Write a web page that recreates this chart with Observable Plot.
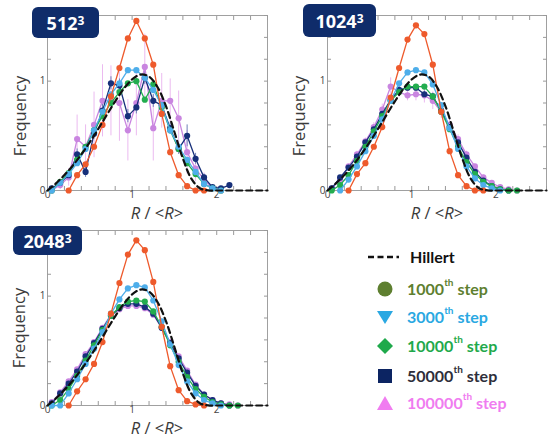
<!DOCTYPE html>
<html><head><meta charset="utf-8">
<script src="https://cdn.jsdelivr.net/npm/d3@7"></script>
<script src="https://cdn.jsdelivr.net/npm/@observablehq/plot@0.6"></script>
<style>
body{margin:0;background:#fff;}
#wrap{position:relative;width:555px;height:439px;overflow:hidden;background:#fff;font-family:"Open Sans",sans-serif;}
.panel{position:absolute;}
.badge{position:absolute;background:#0f2c6a;color:#fff;font-weight:700;font-size:18px;border-radius:6px;display:flex;align-items:center;justify-content:center;font-family:"Open Sans",sans-serif;}
.badge sup{font-size:12px;position:relative;top:-2px;}
.lab{position:absolute;transform:translate(-50%,-50%);white-space:nowrap;color:#3a3a3a;font-size:16.5px;line-height:16px;}
.ylab{transform:translate(-50%,-50%) rotate(-90deg);}
.leg{position:absolute;font-family:Lato,sans-serif;font-weight:700;font-size:16px;white-space:nowrap;display:flex;align-items:center;}
.leg sup{font-size:10px;position:relative;top:-3px;}
</style></head><body><div id="wrap"></div>
<script>
// ---------- data ----------
const panelNames = ["512", "1024", "2048"];
const seriesNames = ["1000th step", "3000th step", "10000th step", "50000th step", "100000th step"];
const binX = [0.05,0.15,0.25,0.35,0.45,0.55,0.65,0.75,0.85,0.95,1.05,1.15,1.25,1.35,1.45,1.55,1.65,1.75,1.85,1.95,2.05,2.15,2.25];

// 512^3
const s1000_512   = [null,null,0,0.14,0.24,0.40,0.60,0.86,1.12,1.39,1.55,1.39,1.15,0.70,0.35,0.14,0.04,0.0,0.0,null,null,null,null];
const s3000_512   = [0.0,0.07,0.15,0.25,0.38,0.55,0.72,0.88,0.98,1.10,1.10,1.03,0.92,0.78,0.55,0.40,0.28,0.17,0.06,0.02,0.0,null,null];
const s10000_512  = [0.0,0.08,0.16,0.28,0.40,0.55,0.68,0.80,0.90,0.98,1.00,0.83,0.97,0.76,0.55,0.38,0.25,0.15,0.06,0.02,0.0,null,null];
const s50000_512  = [0.02,0.07,0.14,0.33,0.17,0.52,0.73,0.98,0.96,0.68,0.76,1.03,0.82,0.78,0.57,0.38,0.50,0.29,0.12,0.03,0.02,0.05,null];
const s100000_512 = [0.0,0.05,0.12,0.47,0.40,0.60,0.82,0.82,0.80,0.55,0.80,1.13,0.57,0.82,0.82,0.66,0.35,0.20,0.10,0.02,0.0,null,null];
const e50000_512  = [0,0.02,0.04,0.05,0.05,0.05,0.06,0.06,0.06,0.06,0.06,0.06,0.06,0.06,0.05,0.05,0.10,0.05,0.03,0.02,0.01,0.01,null];
const e100000_512 = [0,0.04,0.08,0.22,0.20,0.30,0.33,0.32,0.35,0.28,0.30,0.30,0.30,0.25,0.20,0.25,0.20,0.12,0.06,0.03,0,null,null];

// 1024^3
const s1000_1024   = [null,null,0,0.15,0.25,0.40,0.58,0.85,1.12,1.38,1.51,1.43,1.15,0.72,0.36,0.14,0.04,0.0,0.0,null,null,null,null];
const s3000_1024   = [null,0.0,0.10,0.22,0.36,0.50,0.65,0.82,0.98,1.08,1.10,1.08,0.97,0.78,0.57,0.38,0.22,0.11,0.05,0.02,0.0,null,null];
const s10000_1024  = [0.0,0.05,0.14,0.27,0.40,0.54,0.68,0.82,0.90,0.95,0.95,0.95,0.86,0.72,0.56,0.40,0.26,0.15,0.08,0.04,0.01,0.0,0.0];
const s50000_1024  = [0.02,0.12,0.21,0.31,0.44,0.56,0.70,0.83,0.92,0.94,0.94,0.88,0.86,0.73,0.58,0.44,0.30,0.17,0.09,0.04,0.01,0.0,null];
const s100000_1024 = [0.02,0.10,0.22,0.33,0.45,0.58,0.74,0.95,0.90,0.87,0.88,0.87,0.82,0.72,0.60,0.47,0.33,0.22,0.12,0.07,0.03,0.01,0.0];
const e50000_1024  = [0,0.01,0.01,0.02,0.02,0.02,0.02,0.03,0.03,0.03,0.03,0.03,0.03,0.02,0.02,0.02,0.02,0.01,0.01,0.01,0,0,null];
const e100000_1024 = [0,0.01,0.02,0.03,0.03,0.04,0.05,0.08,0.05,0.05,0.06,0.07,0.08,0.06,0.05,0.04,0.03,0.02,0.02,0.01,0.01,0,0];

// 2048^3
const s1000_2048   = [null,null,0,0.13,0.24,0.38,0.58,0.84,1.12,1.38,1.51,1.42,1.13,0.72,0.36,0.14,0.04,0.01,0.0,null,null,null,null];
const s3000_2048   = [0.0,0.0,0.11,0.24,0.38,0.52,0.67,0.84,0.97,1.07,1.10,1.08,0.96,0.77,0.56,0.37,0.22,0.11,0.05,0.02,0.0,null,null];
const s10000_2048  = [0.0,0.05,0.15,0.27,0.41,0.55,0.69,0.82,0.90,0.95,0.96,0.95,0.86,0.72,0.55,0.40,0.26,0.15,0.08,0.03,0.01,0.0,0.0];
const s50000_2048  = [0.02,0.11,0.20,0.31,0.45,0.57,0.70,0.82,0.89,0.93,0.93,0.90,0.84,0.71,0.57,0.43,0.30,0.18,0.10,0.05,0.02,0.0,null];
const s100000_2048 = [0.03,0.12,0.22,0.33,0.47,0.58,0.71,0.83,0.88,0.91,0.91,0.89,0.83,0.71,0.58,0.45,0.32,0.19,0.10,0.05,0.02,0.01,0.0];

// Hillert curve
const hillX = [0,0.1,0.2,0.3,0.4,0.5,0.6,0.7,0.8,0.9,1.0,1.1,1.2,1.3,1.4,1.5,1.6,1.7,1.8,1.9,2.0,2.1,2.2,2.3,2.4,2.5,2.6];
const hillY = [0,0.065,0.141,0.229,0.330,0.442,0.563,0.690,0.815,0.928,1.016,1.060,1.042,0.946,0.771,0.535,0.292,0.108,0.021,0.001,0,0,0,0,0,0,0];

// ticks
const minorTicksX = [0,0.2,0.4,0.6,0.8,1,1.2,1.4,1.6,1.8,2,2.2,2.4,2.6];
const minorTicksY = [0,0.2,0.4,0.6,0.8,1,1.2,1.4,1.6];
const labelTicksX = [0,1,2];
const labelTicksY = [0,1];

// ---------- build ----------
const plotColors = ["#ee5a2c", "#4eaeea", "#23ad4f", "#17307a", "#c985e0"];
const errColors  = {3: "#7080b8", 4: "#ebbaf0"};
const legendColors = ["#5e7f30", "#2aa8e2", "#1fa94b", "#2e2e3a", "#f07cf0"];

const panelSeries = [
  [s1000_512, s3000_512, s10000_512, s50000_512, s100000_512],
  [s1000_1024, s3000_1024, s10000_1024, s50000_1024, s100000_1024],
  [s1000_2048, s3000_2048, s10000_2048, s50000_2048, s100000_2048]
];
const panelErrors = [
  {3: e50000_512, 4: e100000_512},
  {3: e50000_1024, 4: e100000_1024},
  {}
];
const hillRows = hillX.map((x, i) => ({x, y: hillY[i]}));

function rowsOf(arr, err) {
  return binX.map((x, i) => ({x, y: arr[i], e: err ? err[i] : null})).filter(d => d.y != null);
}

function makePanel(p, box) {
  const fmt = d3.format("d");
  const marks = [
    Plot.frame({stroke: "#a0a0a0"}),
    Plot.axisX(minorTicksX, {anchor: "bottom", tickSize: -4, tickFormat: () => "", label: null, stroke: "#999"}),
    Plot.axisX(minorTicksX, {anchor: "top", tickSize: -4, tickFormat: () => "", label: null, stroke: "#999"}),
    Plot.axisY(minorTicksY, {anchor: "left", tickSize: -4, tickFormat: () => "", label: null, stroke: "#999"}),
    Plot.axisY(minorTicksY, {anchor: "right", tickSize: -4, tickFormat: () => "", label: null, stroke: "#999"}),
    Plot.axisX(labelTicksX, {anchor: "bottom", tickSize: 0, tickPadding: 0, tickFormat: fmt, label: null, fill: "#444", fontSize: 10}),
    Plot.axisY(labelTicksY, {anchor: "left", tickSize: 0, tickPadding: 2, tickFormat: fmt, label: null, fill: "#444", fontSize: 10})
  ];
  // error bars
  [4, 3].forEach(k => {
    const err = panelErrors[p][k];
    if (!err) return;
    const rows = rowsOf(panelSeries[p][k], err).filter(d => d.e != null && d.e > 0);
    marks.push(Plot.ruleX(rows, {x: "x", y1: d => d.y - d.e, y2: d => d.y + d.e, stroke: errColors[k], strokeWidth: 1}));
  });
  // series: draw from last to first so orange ends up on top
  [4, 3, 2, 1, 0].forEach(k => {
    const rows = rowsOf(panelSeries[p][k]);
    marks.push(Plot.line(rows, {x: "x", y: "y", stroke: plotColors[k], strokeWidth: 1.3}));
    marks.push(Plot.dot(rows, {x: "x", y: "y", fill: plotColors[k], r: 3.1}));
  });
  marks.push(Plot.line(hillRows, {x: "x", y: "y", stroke: "#111", strokeWidth: 2.2, strokeDasharray: "6,4", curve: "catmull-rom"}));

  const svg = Plot.plot({
    width: box.w, height: box.h,
    marginLeft: 47, marginTop: 15, marginRight: box.mr, marginBottom: box.mb,
    x: {domain: [0, 2.6]},
    y: {domain: [0, 1.6]},
    style: {fontFamily: "Open Sans, sans-serif", fontSize: "10px", color: "#444", background: "transparent", overflow: "visible"},
    marks
  });
  svg.classList.add("panel");
  svg.style.left = box.left + "px";
  svg.style.top = box.top + "px";
  return svg;
}

const wrap = document.getElementById("wrap");
const boxes = [
  {left: 0, top: 0, w: 280, h: 220, mr: 13, mb: 30},
  {left: 280, top: 0, w: 275, h: 220, mr: 9, mb: 30},
  {left: 0, top: 215, w: 280, h: 224, mr: 13, mb: 34}
];
boxes.forEach((b, p) => wrap.appendChild(makePanel(p, b)));

// axis labels and badges
const badgeBoxes = [
  {l: 32, t: 7, w: 67, h: 31},
  {l: 303, t: 4, w: 73, h: 33},
  {l: 13, t: 226, w: 69, h: 29}
];
const yLabPos = [[20, 116], [299, 116], [19, 328]];
const xLabPos = [[157, 213], [437, 213], [157, 428]];
panelNames.forEach((name, p) => {
  const b = document.createElement("div");
  b.className = "badge";
  Object.assign(b.style, {left: badgeBoxes[p].l + "px", top: badgeBoxes[p].t + "px", width: badgeBoxes[p].w + "px", height: badgeBoxes[p].h + "px"});
  b.innerHTML = name + "<sup>3</sup>";
  wrap.appendChild(b);

  const yl = document.createElement("div");
  yl.className = "lab ylab";
  yl.style.left = yLabPos[p][0] + "px"; yl.style.top = yLabPos[p][1] + "px";
  yl.textContent = "Frequency";
  wrap.appendChild(yl);

  const xl = document.createElement("div");
  xl.className = "lab";
  xl.style.left = xLabPos[p][0] + "px"; xl.style.top = xLabPos[p][1] + "px";
  xl.innerHTML = "<i>R</i> / &lt;<i>R</i>&gt;";
  wrap.appendChild(xl);
});

// legend
const legShapes = [
  '<circle cx="8" cy="8" r="7.5"/>',
  '<path d="M0,2 L16,2 L8,15 Z"/>',
  '<path d="M8,0 L16,8 L8,16 L0,8 Z"/>',
  '<rect x="1" y="1" width="14" height="14"/>',
  '<path d="M8,1 L16,15 L0,15 Z"/>'
];
const legSymColors = ["#5e7f30", "#2aa8e2", "#1fa94b", "#0c2462", "#f07cf0"];
const legY = [290, 318, 347, 377, 404];

const h = document.createElement("div");
h.className = "leg";
h.style.left = "368px"; h.style.top = (258 - 11) + "px";
h.innerHTML = '<svg width="31" height="6" style="margin-right:11px"><line x1="0" y1="3" x2="31" y2="3" stroke="#111" stroke-width="2.4" stroke-dasharray="6,3.5"/></svg><span style="color:#111">Hillert</span>';
wrap.appendChild(h);

seriesNames.forEach((name, k) => {
  const d = document.createElement("div");
  d.className = "leg";
  d.style.left = "377px"; d.style.top = (legY[k] - 11) + "px";
  const m = name.match(/^(\d+)th (.*)$/);
  d.innerHTML = `<svg width="16" height="16" style="margin-right:14px" fill="${legSymColors[k]}">${legShapes[k]}</svg><span style="color:${legendColors[k]}">${m[1]}<sup>th</sup> ${m[2]}</span>`;
  wrap.appendChild(d);
});
</script></body></html>
